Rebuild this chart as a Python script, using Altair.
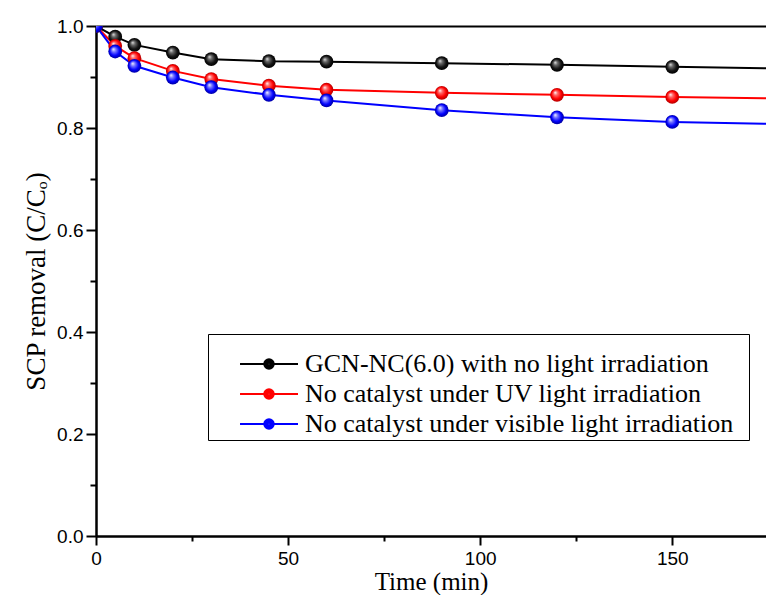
import altair as alt
import pandas as pd

# ---- data ----
times = [0, 5, 10, 20, 30, 45, 60, 90, 120, 150]
gcn_dark = [1.0, 0.979, 0.963, 0.948, 0.935, 0.931, 0.930, 0.927, 0.924, 0.920]
uv_nocat = [1.0, 0.961, 0.937, 0.912, 0.896, 0.883, 0.875, 0.869, 0.865, 0.861]
vis_nocat = [1.0, 0.950, 0.922, 0.899, 0.880, 0.865, 0.854, 0.835, 0.821, 0.812]
line_end_time = 176.5
line_end_values = [0.917, 0.858, 0.808]

series = [
    "GCN-NC(6.0) with no light irradiation",
    "No catalyst under UV light irradiation",
    "No catalyst under visible light irradiation",
]
colors = ["#000000", "#ff0000", "#0000ff"]
x_major = [0, 50, 100, 150]
x_minor = [25, 75, 125, 175]
y_major = [0.0, 0.2, 0.4, 0.6, 0.8, 1.0]
y_minor = [0.1, 0.3, 0.5, 0.7, 0.9]
x_domain = [0, 174.4]
y_domain = [0, 1.0]

values_by_series = [gcn_dark, uv_nocat, vis_nocat]

pts = pd.DataFrame(
    [
        {"series": s, "t": t, "v": v}
        for s, vals in zip(series, values_by_series)
        for t, v in zip(times, vals)
    ]
)
ends = pd.DataFrame(
    [{"series": s, "t": line_end_time, "v": v} for s, v in zip(series, line_end_values)]
)
lines_df = pd.concat([pts, ends], ignore_index=True)

xs = alt.Scale(domain=x_domain, nice=False, zero=False)
ys = alt.Scale(domain=y_domain, nice=False, zero=False)

ball_stops = [
    ["#e8e8e8", "#6a6a6a", "#141414", "#000000"],
    ["#ffffff", "#ff6a6a", "#ff0000", "#b00000"],
    ["#ffffff", "#7a7aff", "#0000ff", "#0000a0"],
]


def ring(r):
    return f"M{r},0A{r},{r},0,1,1,-{r},0A{r},{r},0,1,1,{r},0"


# legend glyph: a line with a (stroke-filled) ball in the middle
legend_path = "M-1.84,0H-0.3M0.3,0H1.84" + "".join(ring(r) for r in [0.3, 0.21, 0.12, 0.04])

# invisible legend title, used only to give the legend box its width and top space
legend_spacer = "0" * 89

lines = (
    alt.Chart(lines_df)
    .mark_line(strokeWidth=2, clip=True)
    .encode(
        x=alt.X(
            "t:Q",
            scale=xs,
            axis=alt.Axis(
                values=x_major,
                orient="bottom",
                title="Time (min)",
                titleFontSize=25,
                tickSize=9,
                labelPadding=4,
                titlePadding=1,
                labelFlush=False,
            ),
        ),
        y=alt.Y(
            "v:Q",
            scale=ys,
            axis=alt.Axis(
                values=y_major,
                orient="left",
                format=".1f",
                title="SCP removal (C/Cₒ)",
                titleFontSize=27,
                tickSize=10,
                labelPadding=3,
                titlePadding=6,
                labelFlush=False,
            ),
        ),
        color=alt.Color(
            "series:N",
            scale=alt.Scale(domain=series, range=colors),
            legend=alt.Legend(
                orient="none",
                legendX=112,
                legendY=308,
                direction="vertical",
                title=legend_spacer,
                titleFont="Liberation Mono",
                titleFontSize=10,
                titleFontWeight="normal",
                titlePadding=0,
                titleLimit=2000,
                titleOpacity=0,
                padding=3,
                strokeColor="black",
                fillColor="white",
                symbolType=legend_path,
                symbolSize=992,
                symbolStrokeWidth=2,
                symbolOffset=41,
                labelOffset=19,
                rowPadding=0,
                labelFont="Liberation Serif",
                labelFontSize=26,
                labelColor="black",
                labelLimit=700,
            ),
        ),
    )
)


def ball_layer(i, x_axis, y_axis):
    stops = ball_stops[i]
    grad = alt.RadialGradient(
        gradient="radial",
        stops=[
            alt.GradientStop(offset=0.0, color=stops[0]),
            alt.GradientStop(offset=0.3, color=stops[1]),
            alt.GradientStop(offset=0.7, color=stops[2]),
            alt.GradientStop(offset=1.0, color=stops[3]),
        ],
        x1=0.36,
        y1=0.32,
        r1=0.0,
        x2=0.5,
        y2=0.5,
        r2=0.5,
    )
    return (
        alt.Chart(pts)
        .transform_filter(alt.datum.series == series[i])
        .mark_circle(size=190, fill=grad, opacity=1, strokeWidth=0, clip=True)
        .encode(
            x=alt.X("t:Q", scale=xs, axis=x_axis),
            y=alt.Y("v:Q", scale=ys, axis=y_axis),
        )
    )


minor_x = alt.Axis(
    values=x_minor, orient="bottom", labels=False, tickSize=5, title="", domain=True
)
minor_y = alt.Axis(
    values=y_minor, orient="left", labels=False, tickSize=6, title="", domain=True
)
top_x = alt.Axis(orient="top", labels=False, ticks=False, title="", domain=True)

chart = (
    alt.layer(
        lines,
        ball_layer(0, minor_x, minor_y),
        ball_layer(1, top_x, None),
        ball_layer(2, None, None),
    )
    .resolve_axis(x="independent", y="independent")
    .properties(
        width=670,
        height=510,
        autosize=alt.AutoSizeParams(type="none"),
        padding={"left": 88, "top": 18, "right": 0, "bottom": 59},
    )
    .configure_view(stroke="transparent")
    .configure_axis(
        grid=False,
        domainColor="black",
        domainWidth=2,
        tickColor="black",
        tickWidth=2,
        labelColor="black",
        labelFont="Liberation Sans",
        labelFontSize=19,
        titleFont="Liberation Serif",
        titleFontSize=27,
        titleFontWeight="normal",
        titleColor="black",
    )
)

chart.save("out.html", embed_options={"renderer": "svg", "actions": False})
